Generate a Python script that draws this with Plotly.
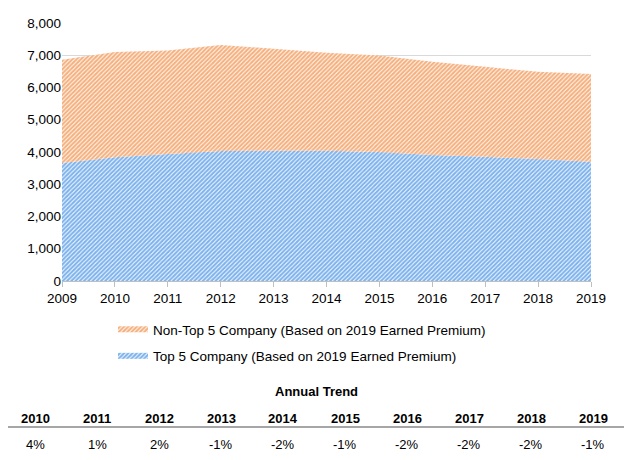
import plotly.graph_objects as go

years = [2009, 2010, 2011, 2012, 2013, 2014, 2015, 2016, 2017, 2018, 2019]
top5 = [3660, 3840, 3940, 4030, 4040, 4040, 4000, 3910, 3850, 3780, 3700]
non_top5 = [3200, 3260, 3210, 3290, 3160, 3040, 2990, 2890, 2790, 2710, 2720]
trend_years = ["2010", "2011", "2012", "2013", "2014", "2015", "2016", "2017", "2018", "2019"]
trend_vals = ["4%", "1%", "2%", "-1%", "-2%", "-1%", "-2%", "-2%", "-2%", "-1%"]

OFF = 8  # page body margin
W, H = 632 - OFF, 460 - OFF
# plot area in reference window pixels
X0, X1, Y0, Y1 = 62, 591, 23, 281
L, R, T, B = X0 - OFF, (632 - X1), Y0 - OFF, (460 - Y1)
PW, PH = W - L - R, H - T - B

def px(x):
    return (x - X0) / PW

def py(y):
    return (Y1 - y) / PH

def cx_(x):
    return (x - OFF) / W

def cy_(y):
    return 1 - (y - OFF) / H

FONT = "Liberation Sans, Arial, sans-serif"
BLUE = "#0068DC"
ORANGE = "#EC6200"

fig = go.Figure()
fig.add_trace(go.Scatter(
    x=years, y=top5, stackgroup="one", mode="none",
    name="Top 5 Company (Based on 2019 Earned Premium)", legendrank=2, legendgroup="top5",
    fillcolor="white",
    fillpattern=dict(shape="/", fgcolor=BLUE, bgcolor="white", size=3, solidity=0.72),
))
fig.add_trace(go.Scatter(
    x=years, y=non_top5, stackgroup="one", mode="none",
    name="Non-Top 5 Company (Based on 2019 Earned Premium)", legendrank=1, legendgroup="non",
    fillcolor="white",
    fillpattern=dict(shape="/", fgcolor=ORANGE, bgcolor="white", size=3, solidity=0.72),
))

def ann(text, x, y, bold=False):
    return dict(text=f"<b>{text}</b>" if bold else text, x=px(x), y=py(y),
                xref="paper", yref="paper", xanchor="center", yanchor="middle",
                showarrow=False, font=dict(size=13, color="black", family=FONT))

annotations = [ann("Annual Trend", 316, 392, bold=True)]
for i, (yr, v) in enumerate(zip(trend_years, trend_vals)):
    cx = 35 + 62.0 * i
    annotations.append(ann(yr, cx, 418, bold=True))
    annotations.append(ann(v, cx, 444))

fig.update_layout(
    width=W, height=H,
    margin=dict(l=L, r=R, t=T, b=B, pad=0, autoexpand=False),
    paper_bgcolor="white", plot_bgcolor="white",
    font=dict(family=FONT, size=13, color="black"),
    showlegend=True,
    legend=dict(orientation="v", traceorder="grouped", xref="container", yref="container",
                x=cx_(113), y=cy_(314),
                xanchor="left", yanchor="top", font=dict(size=13.5, color="black"),
                itemwidth=30, tracegroupgap=6),
    xaxis=dict(range=[2009, 2019], tickvals=years, showgrid=False, showline=True,
               linecolor="#BFBFBF", linewidth=1, ticks="outside", tickcolor="#BFBFBF",
               ticklen=5, tickfont=dict(size=13.5), zeroline=False, automargin=False),
    yaxis=dict(range=[0, 8000], dtick=1000, tickformat=",", showgrid=True,
               gridcolor="#D9D9D9", gridwidth=1, showline=False, zeroline=False,
               tickfont=dict(size=13.5), ticks="", automargin=False),
    annotations=annotations,
    shapes=[dict(type="line", xref="paper", yref="paper", x0=px(4), x1=px(624),
                 y0=py(427), y1=py(427), line=dict(color="#A6A6A6", width=2))],
)

fig.write_html("out.html")
